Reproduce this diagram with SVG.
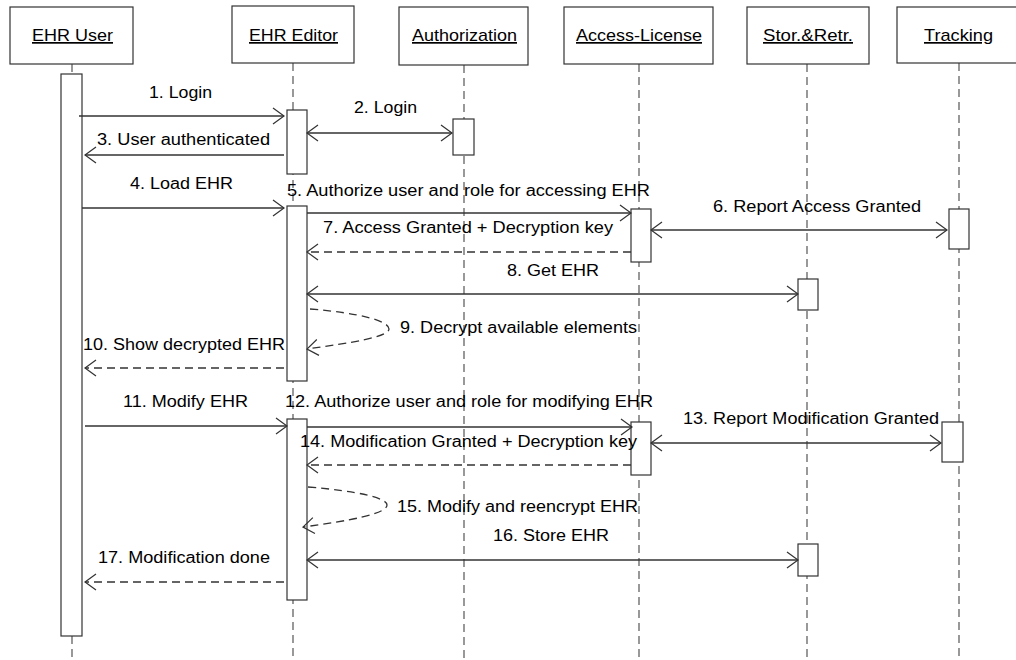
<svg xmlns="http://www.w3.org/2000/svg" width="1016" height="660" viewBox="0 0 1016 660">
<defs>
<marker id="ah" markerUnits="userSpaceOnUse" markerWidth="14" markerHeight="20" viewBox="-12 -10 14 20" refX="0" refY="0" orient="auto-start-reverse">
<path d="M-11,-8 L0,0 L-11,8" fill="none" stroke="#333" stroke-width="1.2"/>
</marker>
<style>
.box{fill:#fff;stroke:#333;stroke-width:1.2}
.act{fill:#fff;stroke:#333;stroke-width:1.2}
.life{stroke:#555;stroke-width:1.2;stroke-dasharray:8 5;fill:none}
.hd{font-family:"Liberation Sans",Arial,sans-serif;font-size:17px;fill:#000;text-decoration:underline}
.lb{font-family:"Liberation Sans",Arial,sans-serif;font-size:16px;fill:#000}
.msg{stroke:#333;stroke-width:1.3;fill:none}
.ret{stroke:#333;stroke-width:1.3;fill:none;stroke-dasharray:8 5}
</style>
</defs>
<rect width="1016" height="660" fill="#fff"/>
<g id="lifelines">
<line class="life" x1="72" y1="64" x2="72" y2="74"/>
<line class="life" x1="72" y1="636" x2="72" y2="660"/>
<line class="life" x1="293" y1="63" x2="293" y2="660"/>
<line class="life" x1="464" y1="65" x2="464" y2="660"/>
<line class="life" x1="639" y1="64" x2="639" y2="660"/>
<line class="life" x1="807" y1="64" x2="807" y2="660"/>
<line class="life" x1="959" y1="63" x2="959" y2="660"/>
</g>
<g id="ehr-user">
<rect class="box" x="10" y="7" width="123" height="57"/>
<text class="hd" x="32" y="41" textLength="81" lengthAdjust="spacingAndGlyphs">EHR User</text>
<rect class="act" x="61" y="74" width="21" height="562"/>
</g>
<g id="ehr-editor">
<rect class="box" x="232" y="6" width="122" height="57"/>
<text class="hd" x="249" y="41" textLength="89" lengthAdjust="spacingAndGlyphs">EHR Editor</text>
<rect class="act" x="287" y="110" width="20" height="64"/>
<rect class="act" x="287" y="206" width="20" height="175"/>
<rect class="act" x="287" y="419" width="20" height="181"/>
</g>
<g id="authorization">
<rect class="box" x="399" y="7" width="129" height="58"/>
<text class="hd" x="412" y="41" textLength="105" lengthAdjust="spacingAndGlyphs">Authorization</text>
<rect class="act" x="453" y="119" width="21" height="36"/>
</g>
<g id="access-license">
<rect class="box" x="564" y="7" width="149" height="57"/>
<text class="hd" x="576" y="41" textLength="126" lengthAdjust="spacingAndGlyphs">Access-License</text>
<rect class="act" x="631" y="209" width="20" height="53"/>
<rect class="act" x="631" y="422" width="20" height="53"/>
</g>
<g id="stor-retr">
<rect class="box" x="747" y="7" width="122" height="57"/>
<text class="hd" x="763" y="41" textLength="90" lengthAdjust="spacingAndGlyphs">Stor.&amp;Retr.</text>
<rect class="act" x="798" y="279" width="20" height="31"/>
<rect class="act" x="798" y="544" width="20" height="32"/>
</g>
<g id="tracking">
<rect class="box" x="897" y="7" width="124" height="56"/>
<text class="hd" x="924" y="41" textLength="69" lengthAdjust="spacingAndGlyphs">Tracking</text>
<rect class="act" x="949" y="209" width="20" height="40"/>
<rect class="act" x="942" y="422" width="21" height="40"/>
</g>
<g id="connectors">
<line class="msg" x1="79" y1="116" x2="284" y2="116" marker-end="url(#ah)"/>
<line class="msg" x1="307" y1="133" x2="452" y2="133" marker-start="url(#ah)" marker-end="url(#ah)"/>
<line class="msg" x1="284" y1="155" x2="85" y2="155" marker-end="url(#ah)"/>
<line class="msg" x1="82" y1="208" x2="284" y2="208" marker-end="url(#ah)"/>
<line class="msg" x1="307" y1="213" x2="631" y2="213" marker-end="url(#ah)"/>
<line class="msg" x1="651" y1="230" x2="947" y2="230" marker-start="url(#ah)" marker-end="url(#ah)"/>
<line class="ret" x1="631" y1="252" x2="307" y2="252" marker-end="url(#ah)"/>
<line class="msg" x1="307" y1="294" x2="798" y2="294" marker-start="url(#ah)" marker-end="url(#ah)"/>
<path class="ret" d="M310,309 C360,313 389,321 389,329 C389,337 350,343 307,349" marker-end="url(#ah)"/>
<line class="ret" x1="284" y1="368" x2="85" y2="368" marker-end="url(#ah)"/>
<line class="msg" x1="85" y1="426" x2="287" y2="426" marker-end="url(#ah)"/>
<line class="msg" x1="307" y1="427" x2="632" y2="427" marker-end="url(#ah)"/>
<line class="msg" x1="651" y1="443" x2="941" y2="443" marker-start="url(#ah)" marker-end="url(#ah)"/>
<line class="ret" x1="631" y1="465" x2="307" y2="465" marker-end="url(#ah)"/>
<path class="ret" d="M308,487 C358,491 387,498 387,505 C387,514 348,521 303,527" marker-end="url(#ah)"/>
<line class="msg" x1="307" y1="560" x2="798" y2="560" marker-start="url(#ah)" marker-end="url(#ah)"/>
<line class="ret" x1="284" y1="582" x2="85" y2="582" marker-end="url(#ah)"/>
</g>
<g id="labels">
<text class="lb" x="149" y="98" textLength="63" lengthAdjust="spacingAndGlyphs">1. Login</text>
<text class="lb" x="354" y="113" textLength="63" lengthAdjust="spacingAndGlyphs">2. Login</text>
<text class="lb" x="97" y="145" textLength="173" lengthAdjust="spacingAndGlyphs">3. User authenticated</text>
<text class="lb" x="130" y="189" textLength="103" lengthAdjust="spacingAndGlyphs">4. Load EHR</text>
<text class="lb" x="287" y="196" textLength="363" lengthAdjust="spacingAndGlyphs">5. Authorize user and role for accessing EHR</text>
<text class="lb" x="713" y="212" textLength="208" lengthAdjust="spacingAndGlyphs">6. Report Access Granted</text>
<text class="lb" x="323" y="233" textLength="290" lengthAdjust="spacingAndGlyphs">7. Access Granted + Decryption key</text>
<text class="lb" x="507" y="276" textLength="92" lengthAdjust="spacingAndGlyphs">8. Get EHR</text>
<text class="lb" x="400" y="333" textLength="237" lengthAdjust="spacingAndGlyphs">9. Decrypt available elements</text>
<text class="lb" x="83" y="350" textLength="202" lengthAdjust="spacingAndGlyphs">10. Show decrypted EHR</text>
<text class="lb" x="123" y="407" textLength="125" lengthAdjust="spacingAndGlyphs">11. Modify EHR</text>
<text class="lb" x="285" y="407" textLength="368" lengthAdjust="spacingAndGlyphs">12. Authorize user and role for modifying EHR</text>
<text class="lb" x="683" y="424" textLength="256" lengthAdjust="spacingAndGlyphs">13. Report Modification Granted</text>
<text class="lb" x="300" y="447" textLength="337" lengthAdjust="spacingAndGlyphs">14. Modification Granted + Decryption key</text>
<text class="lb" x="397" y="512" textLength="241" lengthAdjust="spacingAndGlyphs">15. Modify and reencrypt EHR</text>
<text class="lb" x="493" y="541" textLength="116" lengthAdjust="spacingAndGlyphs">16. Store EHR</text>
<text class="lb" x="98" y="563" textLength="172" lengthAdjust="spacingAndGlyphs">17. Modification done</text>
</g>
</svg>
